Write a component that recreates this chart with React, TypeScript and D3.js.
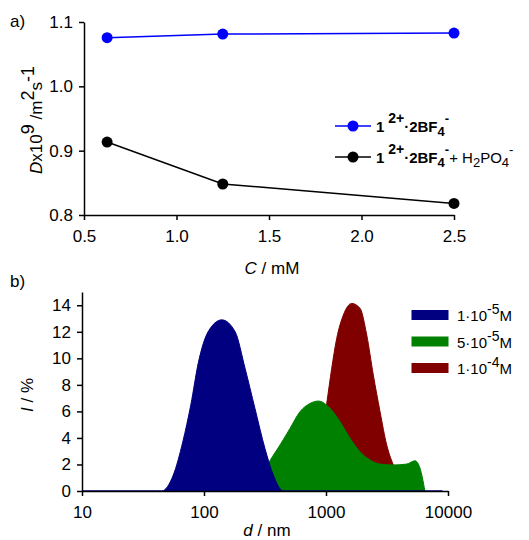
import React, { useEffect, useRef } from 'react';
import * as d3 from 'd3';

// panel a) diffusion coefficient vs concentration
const concentrations = [0.625, 1.25, 2.5];
const dFree = [1.0756, 1.0813, 1.0828];
const dPhosphate = [0.9134, 0.8482, 0.818];
const aXTicks = [0.5, 1.0, 1.5, 2.0, 2.5];
const aYTicks = [0.8, 0.9, 1.0, 1.1];

// panel b) DLS size distributions (d in nm, intensity in %)
const sizesLow = [10, 20, 30, 40, 45, 56, 67, 78, 90, 108, 140, 180, 217, 262, 316, 370, 446, 1000, 5000, 9000];
const intLow = [0, 0, 0, 0, 0, 1.2, 3.7, 6.5, 9.7, 12.0, 12.9, 12.0, 9.25, 6.2, 3.2, 1.2, 0, 0, 0, 0];
const sizesMid = [180, 217, 262, 316, 348, 420, 507, 612, 740, 865, 1079, 1303, 1574, 1901, 2296, 2773, 3565, 4585, 5370, 5890, 6470];
const intMid = [0, 0.3, 0.8, 1.6, 2.3, 3.47, 4.72, 5.98, 6.6, 6.78, 6.23, 5.22, 3.97, 2.96, 2.34, 2.03, 1.96, 2.03, 2.28, 1.73, 0];
const sizesHigh = [507, 612, 740, 865, 940, 1014, 1114, 1224, 1387, 1625, 1901, 2157, 2443, 2773, 3145, 3565, 4070, 4790, 5500];
const intHigh = [0, 0.2, 0.9, 2.8, 4.5, 6.6, 9.25, 11.5, 13.26, 14.14, 13.77, 11.76, 8.74, 5.98, 3.47, 1.96, 0.9, 0.2, 0];
const bXTicks = [10, 100, 1000, 10000];
const bYTicks = [0, 2, 4, 6, 8, 10, 12, 14];
const dlsLabels = [['1·10', '-5'], ['5·10', '-5'], ['1·10', '-4']];
const dlsColors = ['#000080', '#008000', '#800000'];

const FONT = '"Liberation Sans", Arial, sans-serif';

type Seg = { t: string; shift?: number; size?: number; italic?: boolean; bold?: boolean };

// append tspans, shift is offset from the baseline (negative = up)
function rich(text: any, segs: Seg[]) {
  let cur = 0;
  segs.forEach(s => {
    const shift = s.shift ?? 0;
    const ts = text.append('tspan').attr('dy', shift - cur).text(s.t);
    cur = shift;
    if (s.size) ts.attr('font-size', s.size);
    if (s.italic) ts.attr('font-style', 'italic');
    if (s.bold) ts.attr('font-weight', 'bold');
  });
}

function styleAxis(g: any) {
  g.attr('font-family', FONT).attr('font-size', 17);
  g.selectAll('path.domain').attr('stroke-width', 1.5);
  g.selectAll('.tick line').attr('stroke-width', 1.5);
  g.selectAll('.tick text').attr('fill', '#000');
}

const App = () => {
  const ref = useRef<SVGSVGElement>(null);

  useEffect(() => {
    if (!ref.current) return;
    const svg = d3.select(ref.current);
    svg.selectAll('*').remove();

    // ---------- panel a ----------
    const xa = d3.scaleLinear().domain([0.5, 2.5]).range([84, 454]);
    const ya = d3.scaleLinear().domain([0.8, 1.1]).range([215, 22]);

    svg.append('g')
      .attr('transform', 'translate(0,215)')
      .call(d3.axisBottom(xa).tickValues(aXTicks).tickFormat(d3.format('.1f')).tickSize(5).tickSizeOuter(0).tickPadding(10))
      .call(styleAxis);
    svg.append('g')
      .attr('transform', 'translate(84,0)')
      .call(d3.axisLeft(ya).tickValues(aYTicks).tickFormat(d3.format('.1f')).tickSize(5).tickSizeOuter(0).tickPadding(6))
      .call(styleAxis);

    const series = [
      { vals: dFree, color: '#0000ff' },
      { vals: dPhosphate, color: '#000000' },
    ];
    const line = d3.line<number>().x((_, i) => xa(concentrations[i])).y(d => ya(d));
    series.forEach(s => {
      svg.append('path').attr('d', line(s.vals)).attr('fill', 'none')
        .attr('stroke', s.color).attr('stroke-width', 1.5);
      svg.append('g').selectAll('circle').data(s.vals).enter().append('circle')
        .attr('cx', (_, i) => xa(concentrations[i])).attr('cy', d => ya(d))
        .attr('r', 5.5).attr('fill', s.color);
    });

    // legend a
    const legA = [
      { y: 126, color: '#0000ff', extra: false },
      { y: 157, color: '#000000', extra: true },
    ];
    legA.forEach(l => {
      svg.append('line').attr('x1', 335).attr('x2', 371).attr('y1', l.y).attr('y2', l.y)
        .attr('stroke', l.color).attr('stroke-width', 1.5);
      svg.append('circle').attr('cx', 353).attr('cy', l.y).attr('r', 5.5).attr('fill', l.color);
      const t = svg.append('text').attr('x', 376).attr('y', l.y + 6)
        .attr('font-family', FONT).attr('font-size', 15).style('white-space', 'pre');
      const segs: Seg[] = [
        { t: '1', bold: true },
        { t: ' 2+', bold: true, shift: -9, size: 14 },
        { t: '·2BF', bold: true, shift: 0 },
        { t: '4', bold: true, shift: 4, size: 13 },
        { t: '-', bold: true, shift: -9, size: 13 },
      ];
      if (l.extra) {
        segs.push({ t: '+ H', shift: 0 }, { t: '2', shift: 4, size: 13 }, { t: 'PO', shift: 0 },
          { t: '4', shift: 4, size: 13 }, { t: '-', shift: -9, size: 13 });
      }
      rich(t, segs);
    });

    // axis titles a
    const tya = svg.append('text').attr('transform', 'translate(42,120) rotate(-90)')
      .attr('text-anchor', 'middle').attr('font-family', FONT).attr('font-size', 17).style('white-space', 'pre');
    rich(tya, [
      { t: 'D', italic: true }, { t: 'x10' }, { t: '9', shift: -8, size: 18 }, { t: ' /m', shift: 0 },
      { t: '2', shift: -8, size: 18 }, { t: 's', shift: 0 }, { t: '-1', shift: -8, size: 18 },
    ]);
    const txa = svg.append('text').attr('x', 272).attr('y', 274).attr('text-anchor', 'middle')
      .attr('font-family', FONT).attr('font-size', 17).style('white-space', 'pre');
    rich(txa, [{ t: 'C', italic: true }, { t: ' / mM' }]);
    svg.append('text').attr('x', 10).attr('y', 27).attr('font-family', FONT).attr('font-size', 17).text('a)');

    // ---------- panel b ----------
    const xb = d3.scaleLog().domain([10, 10000]).range([82, 448]);
    const yb = d3.scaleLinear().domain([0, 15]).range([491, 292]);

    const dls = [
      { s: sizesHigh, v: intHigh, c: dlsColors[2] },
      { s: sizesMid, v: intMid, c: dlsColors[1] },
      { s: sizesLow, v: intLow, c: dlsColors[0] },
    ];
    dls.forEach(d => {
      const area = d3.area<number>()
        .x((_, i) => xb(d.s[i])).y0(yb(0)).y1(v => yb(v))
        .curve(d3.curveMonotoneX);
      svg.append('path').attr('d', area(d.v)).attr('fill', d.c)
        .attr('stroke', d.c).attr('stroke-width', 1);
    });

    svg.append('g')
      .attr('transform', 'translate(0,491)')
      .call(d3.axisBottom(xb).tickValues(bXTicks).tickFormat(d3.format('d')).tickSize(5).tickSizeOuter(0).tickPadding(10))
      .call(styleAxis);
    svg.append('g')
      .attr('transform', 'translate(82,0)')
      .call(d3.axisLeft(yb).tickValues(bYTicks).tickFormat(d3.format('d')).tickSize(5).tickSizeOuter(0).tickPadding(6))
      .call(styleAxis);

    // legend b
    dlsLabels.forEach((lab, i) => {
      const y = 310 + i * 26.5;
      svg.append('rect').attr('x', 411.5).attr('y', y).attr('width', 37).attr('height', 10).attr('fill', dlsColors[i]);
      const t = svg.append('text').attr('x', 457).attr('y', y + 11)
        .attr('font-family', FONT).attr('font-size', 15);
      rich(t, [{ t: lab[0] }, { t: lab[1], shift: -7, size: 14 }, { t: 'M', shift: 0 }]);
    });

    const tyb = svg.append('text').attr('transform', 'translate(33,395) rotate(-90)')
      .attr('text-anchor', 'middle').attr('font-family', FONT).attr('font-size', 17).style('white-space', 'pre');
    rich(tyb, [{ t: 'I', italic: true }, { t: ' / %' }]);
    const txb = svg.append('text').attr('x', 267).attr('y', 536).attr('text-anchor', 'middle')
      .attr('font-family', FONT).attr('font-size', 17).style('white-space', 'pre');
    rich(txb, [{ t: 'd', italic: true }, { t: ' / nm' }]);
    svg.append('text').attr('x', 10).attr('y', 287).attr('font-family', FONT).attr('font-size', 17).text('b)');
  }, []);

  return (
    <svg ref={ref} width={529} height={540}
      style={{ position: 'absolute', left: 0, top: 0, background: '#fff' }} />
  );
};

export default App;
